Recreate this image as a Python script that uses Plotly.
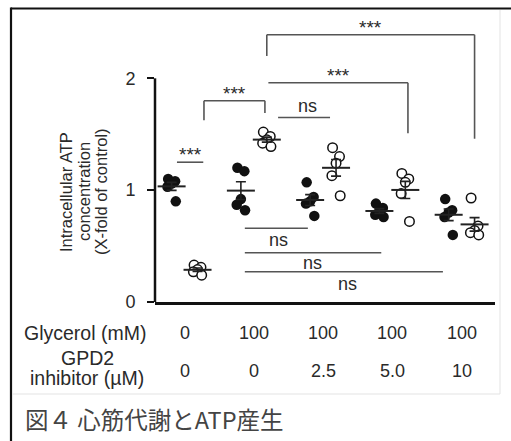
import numpy as np
import plotly.graph_objects as go

# ---------------- data ----------------
glycerol_mM = ["0", "100", "100", "100", "100"]
inhibitor_uM = ["0", "0", "2.5", "5.0", "10"]

# filled circles (first series of each pair) and open circles (second series)
filled_vals = [
    [1.10, 1.08, 1.06, 1.03, 0.90],
    [1.20, 1.17, 0.92, 0.87, 0.82],
    [1.07, 0.94, 0.90, 0.88, 0.77],
    [0.88, 0.84, 0.81, 0.78, 0.76],
    [0.92, 0.82, 0.80, 0.76, 0.60],
]
open_vals = [
    [0.33, 0.31, 0.29, 0.27, 0.24],
    [1.52, 1.48, 1.45, 1.42, 1.39],
    [1.38, 1.30, 1.24, 1.13, 0.95],
    [1.15, 1.10, 1.07, 0.97, 0.72],
    [0.93, 0.68, 0.64, 0.62, 0.60],
]
y_ticks = [0, 1, 2]

# significance annotations: (x0, x1, y_top, y_left_leg, y_right_leg, label)
brackets = [
    (1.187, 4.187, 2.39, 2.20, 1.46, "***"),
    (1.21, 3.225, 1.96, None, 1.51, "***"),
    (0.28, 1.16, 1.80, 1.625, 1.69, "***"),
]
ns_lines = [  # (x0, x1, y_line, label, x_label, y_label)
    (1.35, 2.10, 1.65, "ns", 1.77, 1.75),
    (-0.11, 0.27, 1.25, "***", 0.08, 1.32),
    (0.87, 1.78, 0.66, "ns", 1.35, 0.55),
    (0.87, 2.84, 0.44, "ns", 1.84, 0.35),
    (0.87, 3.73, 0.27, "ns", 2.35, 0.16),
]

# ---------------- layout constants ----------------
W, H = 511, 441
L, R, T, B = 155, 16, 9, 139
PW, PH = W - L - R, H - T - B
OFF = 0.187
jit = [-0.05, 0.05, 0.0, -0.06, 0.06]

FONT = "Liberation Sans, Arial, sans-serif"
TXT = "#2a2a2a"


def px(xp):
    return (xp - L) / PW


def py(yp):
    return (H - B - yp) / PH


fig = go.Figure()

for i in range(5):
    fx = [i - OFF + j for j in jit]
    ox = [i + OFF + j for j in jit]
    fig.add_trace(go.Scatter(
        x=fx, y=filled_vals[i], mode="markers",
        marker=dict(size=10.5, color="#111111", line=dict(width=0)),
        showlegend=False, hoverinfo="skip"))
    fig.add_trace(go.Scatter(
        x=ox, y=open_vals[i], mode="markers",
        marker=dict(size=9.5, color="white", line=dict(width=1.5, color="#111111")),
        showlegend=False, hoverinfo="skip"))

# means and SEM
mx, my, ms = [], [], []
for i in range(5):
    for xv, vals in ((i - OFF, filled_vals[i]), (i + OFF, open_vals[i])):
        a = np.array(vals)
        mx.append(xv)
        my.append(a.mean())
        ms.append(a.std(ddof=1) / np.sqrt(len(a)))
fig.add_trace(go.Scatter(
    x=mx, y=my, mode="markers",
    marker=dict(symbol="line-ew", size=20, line=dict(width=2, color="#222222")),
    error_y=dict(type="data", array=ms, visible=True, width=5, thickness=1.6, color="#222222"),
    showlegend=False, hoverinfo="skip"))

shapes = []
annotations = []
LC = "#555555"
for x0, x1, yt, yl, yr, lab in brackets:
    shapes.append(dict(type="line", xref="x", yref="y", x0=x0, x1=x1, y0=yt, y1=yt,
                       line=dict(color=LC, width=1.6)))
    if yl is not None:
        shapes.append(dict(type="line", xref="x", yref="y", x0=x0, x1=x0, y0=yt, y1=yl,
                           line=dict(color=LC, width=1.6)))
    if yr is not None:
        shapes.append(dict(type="line", xref="x", yref="y", x0=x1, x1=x1, y0=yt, y1=yr,
                           line=dict(color=LC, width=1.6)))
    annotations.append(dict(x=(x0 + x1) / 2, y=yt, xref="x", yref="y", text=lab,
                            showarrow=False, yanchor="bottom", yshift=-5,
                            font=dict(family=FONT, size=19, color=TXT)))
for x0, x1, yl, lab, xl, ylab in ns_lines:
    shapes.append(dict(type="line", xref="x", yref="y", x0=x0, x1=x1, y0=yl, y1=yl,
                       line=dict(color=LC, width=1.6)))
    annotations.append(dict(x=xl, y=ylab, xref="x", yref="y", text=lab, showarrow=False,
                            font=dict(family=FONT, size=18 if lab == "ns" else 19, color=TXT)))

# y axis line (0..2)
shapes.append(dict(type="line", xref="paper", yref="y", x0=0, x1=0, y0=0, y1=2,
                   line=dict(color="#111111", width=2.5)))

# frame lines
shapes += [
    dict(type="line", xref="paper", yref="paper", x0=px(11), x1=px(511), y0=py(8.5), y1=py(8.5),
         line=dict(color="#111111", width=2.2)),
    dict(type="line", xref="paper", yref="paper", x0=px(11), x1=px(11), y0=py(7.5), y1=py(441),
         line=dict(color="#111111", width=2.2)),
    dict(type="line", xref="paper", yref="paper", x0=px(500), x1=px(500), y0=py(10), y1=py(394),
         line=dict(color="#e3e3e3", width=1)),
    dict(type="line", xref="paper", yref="paper", x0=px(12), x1=px(500), y0=py(394), y1=py(394),
         line=dict(color="#e3e3e3", width=1)),
]

# y-axis title (three lines)
for xp, line in ((66, "Intracellular ATP"), (84, "concentration"), (101, "(X-fold of control)")):
    annotations.append(dict(x=px(xp), y=py(192), xref="paper", yref="paper", text=line,
                            textangle=-90, showarrow=False, xanchor="center", yanchor="middle",
                            font=dict(family=FONT, size=16.5, color=TXT)))

# table under the axis
annotations.append(dict(x=px(148), y=py(333), xref="paper", yref="paper", text="Glycerol (mM)",
                        showarrow=False, xanchor="right", yanchor="middle",
                        font=dict(family=FONT, size=19.5, color=TXT)))
annotations.append(dict(x=px(87), y=py(358), xref="paper", yref="paper", text="GPD2",
                        showarrow=False, xanchor="center", yanchor="middle",
                        font=dict(family=FONT, size=19.5, color=TXT)))
annotations.append(dict(x=px(87), y=py(378), xref="paper", yref="paper", text="inhibitor (µM)",
                        showarrow=False, xanchor="center", yanchor="middle",
                        font=dict(family=FONT, size=19.5, color=TXT)))
for i in range(5):
    annotations.append(dict(x=i, y=py(333), xref="x", yref="paper", text=glycerol_mM[i],
                            showarrow=False, yanchor="middle",
                            font=dict(family=FONT, size=18, color=TXT)))
    annotations.append(dict(x=i, y=py(371), xref="x", yref="paper", text=inhibitor_uM[i],
                            showarrow=False, yanchor="middle",
                            font=dict(family=FONT, size=18, color=TXT)))

# caption
annotations.append(dict(x=px(23), y=py(419), xref="paper", yref="paper",
                        text="図４ 心筋代謝とATP産生", showarrow=False,
                        xanchor="left", yanchor="middle",
                        font=dict(family="Noto Sans CJK JP", size=23.5, color="#444444")))

fig.update_layout(
    width=W, height=H,
    margin=dict(l=L, r=R, t=T, b=B, pad=0),
    paper_bgcolor="white", plot_bgcolor="white",
    shapes=shapes, annotations=annotations,
    xaxis=dict(range=[-0.427, 4.482], showline=True, linecolor="#111111", linewidth=2.5,
               showticklabels=False, ticks="", showgrid=False, zeroline=False, fixedrange=True),
    yaxis=dict(range=[0, 2.62], showline=False, tickvals=y_ticks, ticks="outside",
               ticklen=7, tickwidth=2, tickcolor="#111111", showgrid=False, zeroline=False,
               tickfont=dict(family=FONT, size=18, color=TXT), ticklabelstandoff=8,
               fixedrange=True),
)

fig.write_html("out.html", config={"displayModeBar": False},
               post_script="document.body.style.margin='0';document.body.style.padding='0';")
